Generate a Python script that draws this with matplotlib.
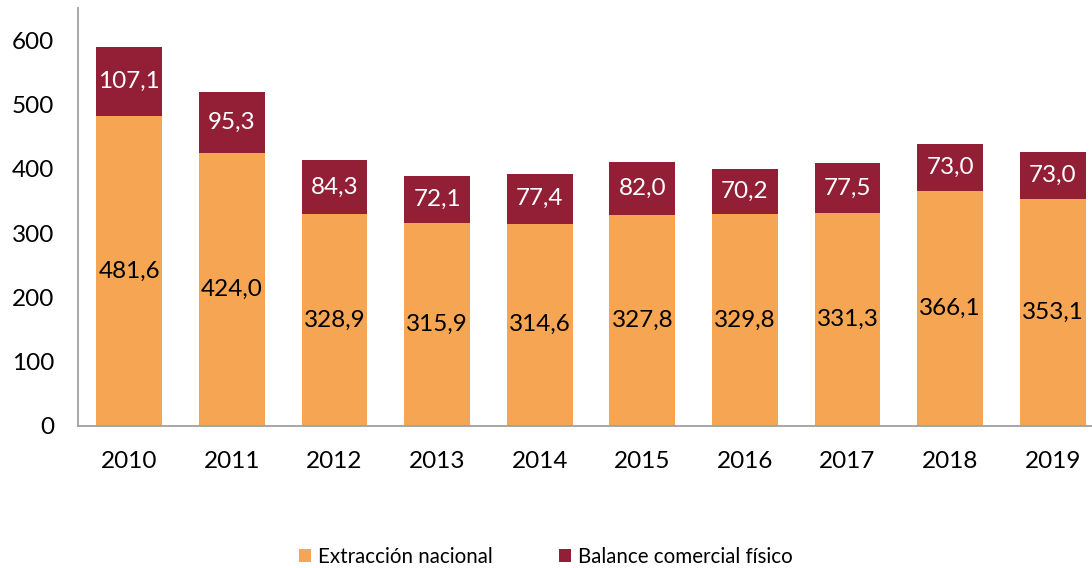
import matplotlib
matplotlib.use("Agg")
import matplotlib.pyplot as plt
import numpy as np

years = ["2010", "2011", "2012", "2013", "2014", "2015", "2016", "2017", "2018", "2019"]
extraccion = [481.6, 424.0, 328.9, 315.9, 314.6, 327.8, 329.8, 331.3, 366.1, 353.1]
balance = [107.1, 95.3, 84.3, 72.1, 77.4, 82.0, 70.2, 77.5, 73.0, 73.0]

plt.rcParams['font.family'] = ['Lato', 'DejaVu Sans']

c_orange = "#F6A552"
c_red = "#931F37"

fig = plt.figure(figsize=(10.92, 5.68), dpi=100)
ax = fig.add_axes([78/1092, 0.25, 1 - 78/1092, 0.986 - 0.25])

x = np.arange(len(years))
w = 0.643
b1 = ax.bar(x, extraccion, w, color=c_orange, label="Extracción nacional")
b2 = ax.bar(x, balance, w, bottom=extraccion, color=c_red, label="Balance comercial físico")

def fmt(v):
    return f"{v:.1f}".replace(".", ",")

fs = 17.5
for i in range(len(years)):
    ax.text(x[i], extraccion[i] / 2, fmt(extraccion[i]),
            ha="center", va="center", fontsize=fs, color="black")
    ax.text(x[i], extraccion[i] + balance[i] / 2, fmt(balance[i]),
            ha="center", va="center", fontsize=fs, color="white")

ax.set_ylim(0, 650)
ax.set_xlim(-0.5, 9.383)
ax.set_yticks([0, 100, 200, 300, 400, 500, 600])
ax.set_xticks(x)
ax.set_xticklabels(years)
ax.tick_params(axis="both", length=0, labelsize=fs)
ax.tick_params(axis="x", pad=18)
ax.tick_params(axis="y", pad=17)
for s in ["top", "right"]:
    ax.spines[s].set_visible(False)
for s in ["left", "bottom"]:
    ax.spines[s].set_color("#A0A0A0")
    ax.spines[s].set_linewidth(1.3)

fig.legend(handles=[b1, b2], loc="center", bbox_to_anchor=(0.5, 1 - 557/568), ncol=2,
           frameon=False, fontsize=14.8, handlelength=0.6, handleheight=0.6,
           columnspacing=3.2, handletextpad=0.35)

fig.savefig("out.png", dpi=100)
